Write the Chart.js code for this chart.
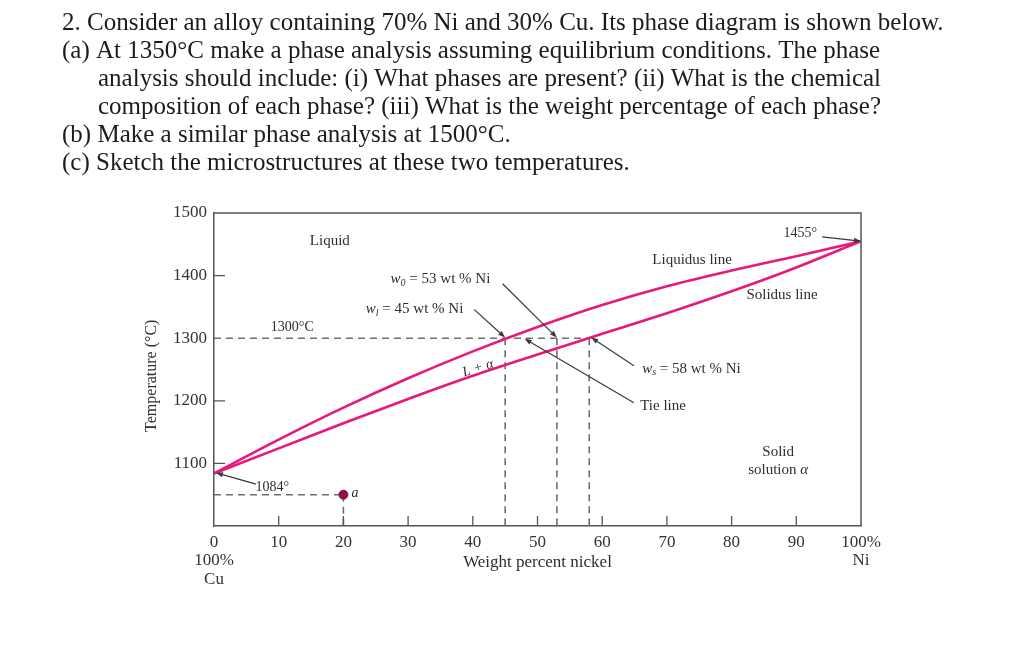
<!DOCTYPE html>
<html>
<head>
<meta charset="utf-8">
<script src="https://cdn.jsdelivr.net/npm/chart.js@4.4.1/dist/chart.umd.min.js"></script>
<style>
  html, body { margin: 0; padding: 0; background: #fff; }
  #wrap { width: 1024px; height: 655px; position: relative; }
</style>
</head>
<body>
<div id="wrap"><canvas id="myChart" width="1024" height="655"></canvas></div>
<script>
// question text above the diagram
const questionLines = [
    '2. Consider an alloy containing 70% Ni and 30% Cu. Its phase diagram is shown below.',
    '(a) At 1350°C make a phase analysis assuming equilibrium conditions. The phase',
    'analysis should include: (i) What phases are present? (ii) What is the chemical',
    'composition of each phase? (iii) What is the weight percentage of each phase?',
    '(b) Make a similar phase analysis at 1500°C.',
    '(c) Sketch the microstructures at these two temperatures.'
];
const questionIndent = [0, 0, 1, 1, 0, 0];

// liquidus / solidus (wt % Ni, °C)
const liquidusNi = [0, 10, 20, 30, 40, 50, 60, 70, 80, 90, 100];
const liquidusT = [1084, 1138, 1189, 1236, 1279, 1318, 1353, 1383, 1408, 1431, 1455];
const solidusNi = [0, 10, 20, 30, 40, 50, 60, 70, 80, 90, 100];
const solidusT = [1084, 1124, 1164, 1203, 1240, 1274, 1307, 1340, 1375, 1413, 1455];

// tie line at 1300°C and its compositions
const tieT = 1300;
const tieNi = [45, 53, 58];   // w_l, w_0, w_s

// point a
const pointA = { x: 20, y: 1050 };

const xTicks = [0, 10, 20, 30, 40, 50, 60, 70, 80, 90, 100];
const yTicks = [1000, 1100, 1200, 1300, 1400, 1500];

const pink = '#e8187c';
const dashGrey = '#707070';
const serif = '"Liberation Serif", "Times New Roman", serif';

const toPts = (xs, ys) => xs.map((x, i) => ({ x: x, y: ys[i] }));

const dashed = (pts) => ({
    data: pts,
    showLine: true,
    borderColor: dashGrey,
    borderWidth: 1.6,
    borderDash: [7, 5],
    pointRadius: 0,
    fill: false
});

const datasets = [
    {
        label: 'Liquidus line',
        data: toPts(liquidusNi, liquidusT),
        showLine: true,
        borderColor: pink,
        borderWidth: 2.6,
        pointRadius: 0,
        cubicInterpolationMode: 'monotone'
    },
    {
        label: 'Solidus line',
        data: toPts(solidusNi, solidusT),
        showLine: true,
        borderColor: pink,
        borderWidth: 2.6,
        pointRadius: 0,
        cubicInterpolationMode: 'monotone'
    },
    {
        label: 'a',
        data: [pointA],
        pointRadius: 4.5,
        pointBackgroundColor: '#8c1348',
        pointBorderColor: '#8c1348'
    },
    dashed([{ x: 0, y: tieT }, { x: tieNi[2], y: tieT }]),
    dashed([{ x: 0, y: pointA.y }, { x: pointA.x, y: pointA.y }]),
    dashed([{ x: pointA.x, y: pointA.y }, { x: pointA.x, y: 1000 }])
].concat(tieNi.map(n => dashed([{ x: n, y: tieT }, { x: n, y: 1000 }])));

// text + arrows inside the plot, in data coordinates
const notes = [
    { t: 'Liquid', x: 17.9, y: 1455, size: 15 },
    { t: 'Liquidus line', x: 73.9, y: 1425, size: 15 },
    { t: 'Solidus line', x: 87.8, y: 1369, size: 15 },
    { t: '1455°', x: 90.6, y: 1468, size: 14 },
    { t: '1300°C', x: 12.1, y: 1318, size: 14 },
    { t: '1084°', x: 9.0, y: 1062, size: 14 },
    { t: 'Tie line', x: 69.4, y: 1192, size: 15 },
    { t: 'Solid', x: 87.2, y: 1118, size: 15 },
    { t: 'solution α', x: 87.2, y: 1090, size: 15, italicTail: true }
];
const wLabels = [
    { sub: '0', rest: ' = 53 wt % Ni', x: 35.0, y: 1394 },
    { sub: 'l', rest: ' = 45 wt % Ni', x: 31.0, y: 1346 },
    { sub: 's', rest: ' = 58 wt % Ni', x: 73.8, y: 1251 }
];
const arrows = [
    [94.0, 1462, 100, 1455],
    [44.6, 1387, 53, 1301],
    [40.2, 1346, 45, 1301],
    [64.9, 1256, 58.3, 1301],
    [64.9, 1197, 48.0, 1299],
    [6.5, 1067, 0.3, 1085]
];

const annotate = {
    id: 'annotate',
    beforeDraw(chart) {
        const ctx = chart.ctx;
        ctx.save();
        ctx.fillStyle = '#fff';
        ctx.fillRect(0, 0, chart.width, chart.height);
        // question text, sized so the first line spans the same width
        ctx.font = '22px ' + serif;
        const w = ctx.measureText(questionLines[0]).width;
        const size = 22 * 882 / w;
        ctx.font = size.toFixed(2) + 'px ' + serif;
        ctx.fillStyle = '#1c1c1c';
        ctx.textBaseline = 'alphabetic';
        ctx.textAlign = 'left';
        questionLines.forEach((line, i) => {
            ctx.fillText(line, questionIndent[i] ? 98 : 62, 30 + 28 * i);
        });
        ctx.restore();
    },
    afterDraw(chart) {
        const ctx = chart.ctx;
        const xs = chart.scales.x, ys = chart.scales.y;
        const a = chart.chartArea;
        const px = v => xs.getPixelForValue(v);
        const py = v => ys.getPixelForValue(v);
        ctx.save();
        // frame top / right
        ctx.strokeStyle = '#555';
        ctx.lineWidth = 1.5;
        ctx.beginPath();
        ctx.moveTo(a.left, a.top);
        ctx.lineTo(a.right, a.top);
        ctx.lineTo(a.right, a.bottom);
        ctx.stroke();
        // inward tick marks
        ctx.lineWidth = 1.3;
        ctx.beginPath();
        xTicks.slice(1, -1).forEach(v => {
            ctx.moveTo(px(v), a.bottom);
            ctx.lineTo(px(v), a.bottom - 10);
        });
        yTicks.slice(1, -1).forEach(v => {
            if (v === tieT) return;
            ctx.moveTo(a.left, py(v));
            ctx.lineTo(a.left + 11, py(v));
        });
        ctx.stroke();

        // arrows
        ctx.strokeStyle = '#3a3a3a';
        ctx.fillStyle = '#3a3a3a';
        ctx.lineWidth = 1.2;
        arrows.forEach(r => {
            const x1 = px(r[0]), y1 = py(r[1]), x2 = px(r[2]), y2 = py(r[3]);
            const ang = Math.atan2(y2 - y1, x2 - x1);
            ctx.beginPath();
            ctx.moveTo(x1, y1);
            ctx.lineTo(x2 - 5 * Math.cos(ang), y2 - 5 * Math.sin(ang));
            ctx.stroke();
            ctx.beginPath();
            ctx.moveTo(x2, y2);
            ctx.lineTo(x2 - 7 * Math.cos(ang) + 2.6 * Math.sin(ang), y2 - 7 * Math.sin(ang) - 2.6 * Math.cos(ang));
            ctx.lineTo(x2 - 7 * Math.cos(ang) - 2.6 * Math.sin(ang), y2 - 7 * Math.sin(ang) + 2.6 * Math.cos(ang));
            ctx.closePath();
            ctx.fill();
        });

        // text notes
        ctx.fillStyle = '#2e2e2e';
        ctx.textAlign = 'center';
        ctx.textBaseline = 'middle';
        notes.forEach(n => {
            ctx.font = n.size + 'px ' + serif;
            if (n.italicTail) {
                const head = 'solution ';
                const wh = ctx.measureText(head).width;
                ctx.font = 'italic ' + n.size + 'px ' + serif;
                const wt = ctx.measureText('α').width;
                const x0 = px(n.x) - (wh + wt) / 2;
                ctx.textAlign = 'left';
                ctx.font = n.size + 'px ' + serif;
                ctx.fillText(head, x0, py(n.y));
                ctx.font = 'italic ' + n.size + 'px ' + serif;
                ctx.fillText('α', x0 + wh, py(n.y));
                ctx.textAlign = 'center';
            } else {
                ctx.fillText(n.t, px(n.x), py(n.y));
            }
        });

        // w labels with subscripts
        wLabels.forEach(l => {
            ctx.font = 'italic 15px ' + serif;
            const ww = ctx.measureText('w').width;
            ctx.font = 'italic 10px ' + serif;
            const ws = ctx.measureText(l.sub).width;
            ctx.font = '15px ' + serif;
            const wr = ctx.measureText(l.rest).width;
            let x0 = px(l.x) - (ww + ws + wr) / 2;
            const y0 = py(l.y);
            ctx.textAlign = 'left';
            ctx.font = 'italic 15px ' + serif;
            ctx.fillText('w', x0, y0);
            ctx.font = 'italic 10px ' + serif;
            ctx.fillText(l.sub, x0 + ww, y0 + 4);
            ctx.font = '15px ' + serif;
            ctx.fillText(l.rest, x0 + ww + ws, y0);
        });

        // L + α, slanted along the two-phase field
        ctx.save();
        ctx.translate(px(40.8), py(1252));
        ctx.rotate(-0.3);
        ctx.textAlign = 'center';
        ctx.font = 'italic 14px ' + serif;
        ctx.fillText('L + α', 0, 0);
        ctx.restore();

        // label for point a
        ctx.textAlign = 'left';
        ctx.font = 'italic 14px ' + serif;
        ctx.fillText('a', px(pointA.x) + 8, py(pointA.y) - 1);

        // axis titles
        ctx.textAlign = 'center';
        ctx.font = '17px ' + serif;
        ctx.fillText('Weight percent nickel', px(50), a.bottom + 37);
        ctx.save();
        ctx.translate(152, py(1240));
        ctx.rotate(-Math.PI / 2);
        ctx.font = '16px ' + serif;
        ctx.fillText('Temperature (°C)', 0, 0);
        ctx.restore();
        ctx.restore();
    }
};

const config = {
    type: 'scatter',
    data: { datasets: datasets },
    options: {
        responsive: false,
        animation: false,
        events: [],
        layout: { padding: { top: 213, right: 163, left: 120, bottom: 60 } },
        plugins: {
            legend: { display: false },
            tooltip: { enabled: false }
        },
        scales: {
            x: {
                type: 'linear',
                min: 0,
                max: 100,
                afterFit: s => { s.height = 655 - 60 - 526; },
                afterBuildTicks: s => { s.ticks = xTicks.map(v => ({ value: v })); },
                grid: { drawOnChartArea: false, drawTicks: false },
                border: { display: true, color: '#555', width: 1.5 },
                ticks: {
                    padding: 8,
                    color: '#333',
                    maxRotation: 0,
                    autoSkip: false,
                    font: { family: serif, size: 17, lineHeight: 1.06 },
                    callback: v => v === 0 ? ['0', '100%', 'Cu'] : (v === 100 ? ['100%', 'Ni'] : String(v))
                }
            },
            y: {
                type: 'linear',
                min: 1000,
                max: 1500,
                afterFit: s => { s.width = 214 - 120; },
                afterBuildTicks: s => { s.ticks = yTicks.map(v => ({ value: v })); },
                grid: { drawOnChartArea: false, drawTicks: false },
                border: { display: true, color: '#555', width: 1.5 },
                ticks: {
                    padding: 7,
                    color: '#333',
                    autoSkip: false,
                    font: { family: serif, size: 17 },
                    callback: v => v === 1000 ? '' : String(v)
                }
            }
        }
    },
    plugins: [annotate]
};

var myChart = new Chart(
    document.getElementById('myChart'),
    config
);
</script>
</body>
</html>
